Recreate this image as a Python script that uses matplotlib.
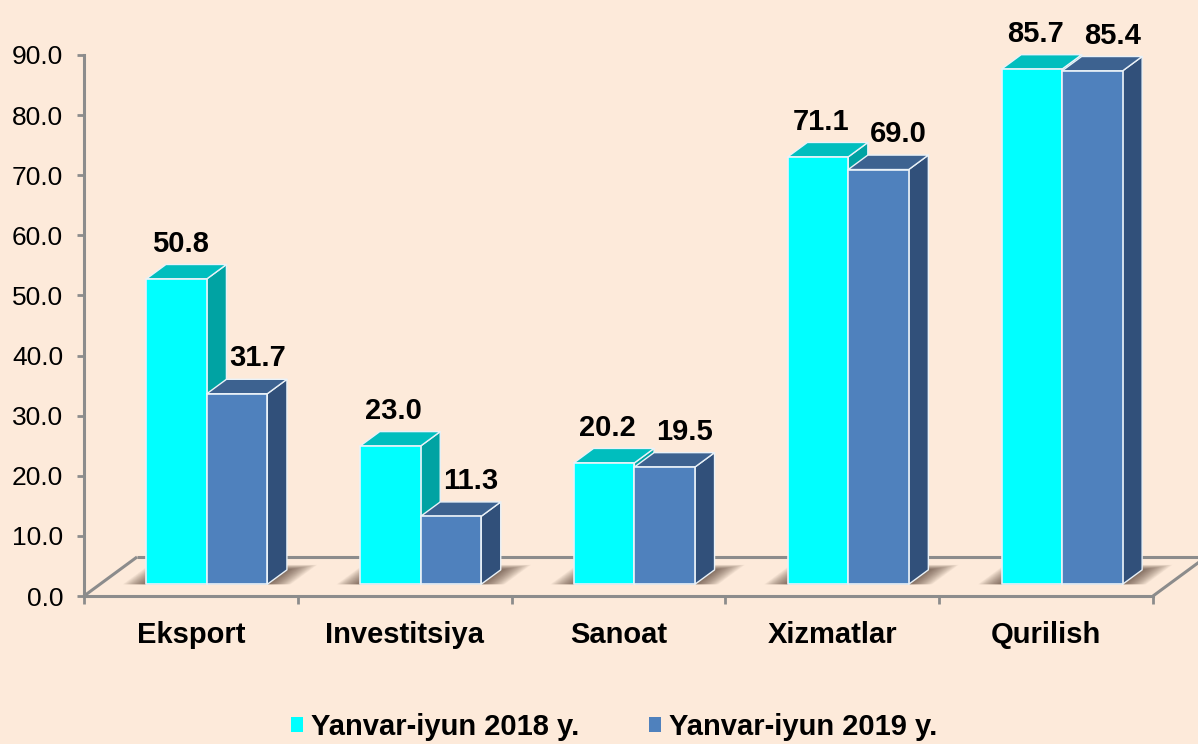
import matplotlib
matplotlib.use('Agg')
import matplotlib.pyplot as plt
from matplotlib.patches import Polygon, Patch

# ---------------- data ----------------
categories = ['Eksport', 'Investitsiya', 'Sanoat', 'Xizmatlar', 'Qurilish']
series_names = ['Yanvar-iyun 2018 y.', 'Yanvar-iyun 2019 y.']
values_2018 = [50.8, 23.0, 20.2, 71.1, 85.7]
values_2019 = [31.7, 11.3, 19.5, 69.0, 85.4]
y_ticks = [0, 10, 20, 30, 40, 50, 60, 70, 80, 90]

# ---------------- style ----------------
BG = '#FDEADA'
GRID = '#8C8C8C'
front_c = ['#00FFFF', '#4F81BD']
top_c = ['#00BEBE', '#3D6290']
side_c = ['#00A3A3', '#31507A']
edge_c = '#EAF2F8'
FONT = ['Liberation Sans', 'DejaVu Sans']

W, H = 1198, 744
fig = plt.figure(figsize=(W / 100, H / 100), dpi=100, facecolor=BG)
ax = fig.add_axes([84 / W, 148 / H, 1069 / W, 541 / H])
ax.set_facecolor('none')
ax.set_xlim(0, len(categories))
ax.set_ylim(0, 90)

# 3D depth vector of the floor (data units)
FDX, FDY = 0.248, 6.49
plane0 = 0.30      # fraction of floor depth where bar fronts sit
bdepth = 0.37      # fraction of floor depth used by bar depth
bw = 0.283         # bar width (categories)
ox, oy = FDX * plane0, FDY * plane0
ddx, ddy = FDX * bdepth, FDY * bdepth

# floor
n = len(categories)
floor_kw = dict(color=GRID, lw=2.2, clip_on=False, zorder=1, solid_capstyle='butt')
ax.plot([0, FDX], [0, FDY], **floor_kw)
ax.plot([FDX, n + FDX], [FDY, FDY], **floor_kw)
ax.plot([n, n + FDX], [0, FDY], **floor_kw)

series = [values_2018, values_2019]
label_dx_pt = [-4.5, 7.5]

NSH = 24
for i, cat in enumerate(categories):
    x_left = i + 0.5 - bw + ox
    x_right = x_left + 2 * bw
    base = oy
    # soft shadow on the floor (stack of shrinking parallelograms)
    for k in range(NSH):
        f = (NSH - k) / NSH
        e = 0.11 * f
        dd = 1.0 + 0.35 * f
        sx, sy = ddx * dd, ddy * dd
        pts = [(x_left - e, base), (x_right + e, base),
               (x_right + e + sx, base + sy), (x_left - e + sx, base + sy)]
        ax.add_patch(Polygon(pts, closed=True, facecolor='#4A3426',
                             edgecolor='none', alpha=0.038, zorder=1.5, clip_on=False))
    for j, vals in enumerate(series):
        v = vals[i]
        x0 = x_left + j * bw
        z = 3 + j
        side = [(x0 + bw, base), (x0 + bw + ddx, base + ddy),
                (x0 + bw + ddx, base + v + ddy), (x0 + bw, base + v)]
        ax.add_patch(Polygon(side, closed=True, facecolor=side_c[j], edgecolor=edge_c,
                             lw=1.0, zorder=z, clip_on=False, joinstyle='round'))
        topf = [(x0, base + v), (x0 + bw, base + v),
                (x0 + bw + ddx, base + v + ddy), (x0 + ddx, base + v + ddy)]
        ax.add_patch(Polygon(topf, closed=True, facecolor=top_c[j], edgecolor=edge_c,
                             lw=1.0, zorder=z, clip_on=False, joinstyle='round'))
        frontf = [(x0, base), (x0 + bw, base), (x0 + bw, base + v), (x0, base + v)]
        ax.add_patch(Polygon(frontf, closed=True, facecolor=front_c[j], edgecolor=edge_c,
                             lw=1.2, zorder=z + 0.1, clip_on=False, joinstyle='round'))
        ax.annotate(f'{v:.1f}', xy=(x0 + bw / 2 + ddx / 2, base + v + ddy),
                    xytext=(label_dx_pt[j], 15), textcoords='offset points',
                    ha='center', va='center', fontsize=21, fontweight='bold',
                    family=FONT, color='black', zorder=10, annotation_clip=False)

# axes styling
for s in ['top', 'right']:
    ax.spines[s].set_visible(False)
for s in ['left', 'bottom']:
    ax.spines[s].set_color(GRID)
    ax.spines[s].set_linewidth(2.2)
    ax.spines[s].set_zorder(2)

ax.set_yticks(y_ticks)
ax.set_yticklabels([f'{t:.1f}' for t in y_ticks], family=FONT, fontsize=19)
ax.tick_params(axis='y', direction='out', length=5, width=2, color=GRID, pad=10)

ax.set_xticks(range(n + 1))
ax.set_xticklabels([])
ax.tick_params(axis='x', which='major', direction='out', length=6, width=2, color=GRID)
ax.set_xticks([i + 0.5 for i in range(n)], minor=True)
ax.set_xticklabels(categories, minor=True, family=FONT, fontsize=21, fontweight='bold')
ax.tick_params(axis='x', which='minor', length=0, pad=18)

# legend
handles = [Patch(facecolor=front_c[0], edgecolor='none'),
           Patch(facecolor=front_c[1], edgecolor='none')]
leg = fig.legend(handles, series_names, loc='center', bbox_to_anchor=(614 / W, 17 / H),
                 ncol=2, frameon=False, handlelength=0.42, handleheight=0.42,
                 handletextpad=0.25, columnspacing=2.4,
                 prop=dict(family=FONT, size=21, weight='bold'))

fig.savefig('out.png', dpi=100, facecolor=BG)
